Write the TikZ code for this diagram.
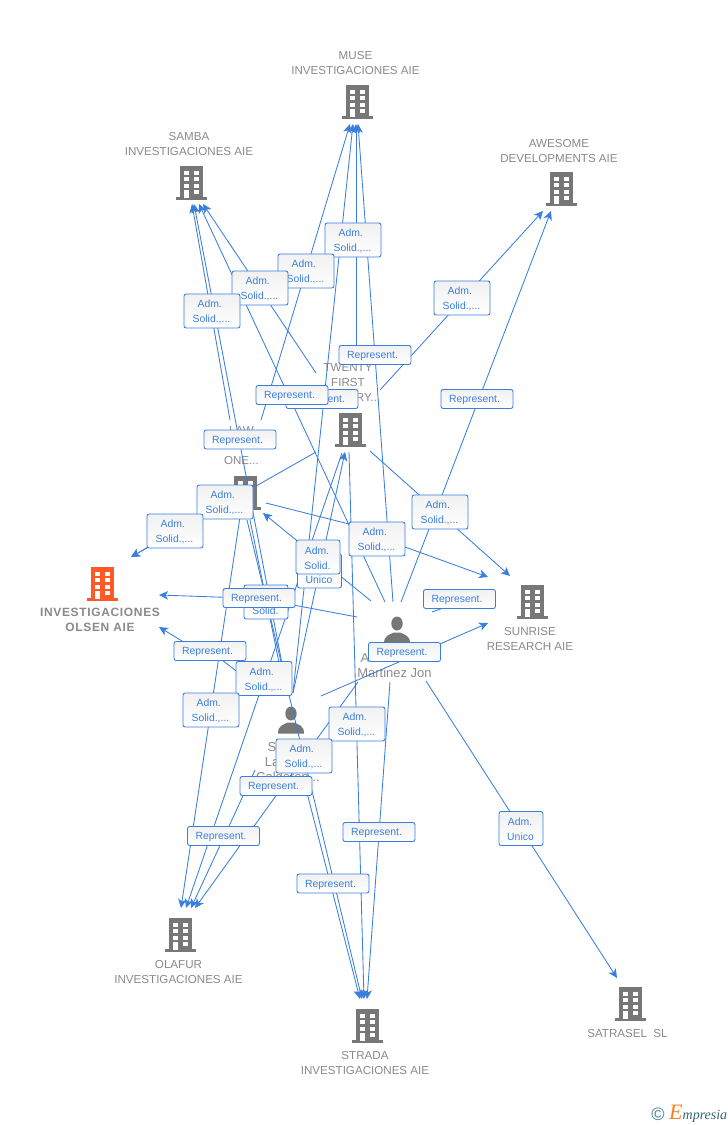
\documentclass[tikz,border=0pt]{standalone}
\usepackage{fontspec}
\setmainfont{Liberation Sans}
\newfontfamily\serifital{Liberation Serif}[ItalicFont=* Italic]
\usetikzlibrary{arrows.meta}
\definecolor{linkblue}{HTML}{3B7FDD}
\definecolor{boxtop}{HTML}{F1F1F1}
\definecolor{namegray}{HTML}{8A8A8A}
\definecolor{icongray}{HTML}{777777}
\definecolor{orangeicon}{HTML}{FF5A26}
\definecolor{brandteal}{HTML}{3F7F96}
\definecolor{brandorange}{HTML}{F58220}
\newcommand\dn[1]{\raisebox{-1pt}[\height][\depth]{#1}}
\newcommand\repT{\dn{Represent.}\kern5pt}
\newcommand\admS{\dn{Adm.}\kern4.5pt\\\dn{Solid.,...}\kern1pt}
\newcommand\admD{\dn{Adm.}\kern2pt\\\dn{Solid.}\kern1pt}
\newcommand\admU{\dn{Adm.}\kern2pt\\\dn{Unico}\kern1pt}
\tikzset{
  x=1pt,y=-1pt,
  linkline/.style={draw=linkblue,line width=0.85pt,line join=round},
  arrowlink/.style={linkline,-{Stealth[length=9pt,width=8.5pt,inset=2.5pt]}},
  tagbox/.style={draw=linkblue,line width=0.9pt,rounded corners=2.2pt,top color=boxtop,bottom color=white,
    text=linkblue,font=\fontsize{10.4}{15}\selectfont,align=center,inner sep=0pt},
  rolebox/.style={tagbox,minimum width=56pt,minimum height=34pt},
  repbox/.style={tagbox,minimum width=72pt,minimum height=19pt},
  unibox/.style={tagbox,minimum width=44pt,minimum height=34pt},
  entname/.style={text=namegray,font=\fontsize{11.6}{15}\selectfont,align=center,inner sep=0pt},
  persname/.style={text=namegray,font=\fontsize{13}{15}\selectfont,align=center,inner sep=0pt},
  pics/bldg/.style={code={
    \fill[#1] (-11.5,-16.5) rectangle (11.5,15.5);
    \fill[#1] (-15.5,15) rectangle (15.5,17.5);
    \foreach \yy in {-11.5,-4.7,2} {
      \fill[white] (-7.5,\yy) rectangle (-2.5,\yy+4);
      \fill[white] (2.5,\yy) rectangle (7.5,\yy+4);
    }
    \fill[white] (-7.5,8) rectangle (-2.5,15.5);
    \fill[white] (2.5,8) rectangle (7.5,12);
  }},
  pics/person/.style={code={
    \fill[icongray] (0,-6.5) ellipse (5.7 and 7);
    \fill[icongray] (-13,13.5) .. controls (-13,5) and (-7,4.5) .. (-3,2.5) -- (3,2.5) .. controls (7,4.5) and (13,5) .. (13,13.5) -- cycle;
  }}
}
\begin{document}
\begin{tikzpicture}
\useasboundingbox (0,0) rectangle (728,1125);
\fill[white] (0,0) rectangle (728,1125);

% company and person names
\node[entname] (nmuse) at (355.5,63) {MUSE\\INVESTIGACIONES AIE};
\node[entname] (nsamba) at (189,144) {SAMBA\\INVESTIGACIONES AIE};
\node[entname] (nawesome) at (559,151) {AWESOME\\DEVELOPMENTS AIE};
\node[text=namegray,align=center,inner sep=0pt,font=\fontsize{12}{15}\bfseries\selectfont\addfontfeature{LetterSpace=5.5}] (nolsen) at (100,619.5) {INVESTIGACIONES\\OLSEN AIE};
\node[entname] (nsunrise) at (530,638.5) {SUNRISE\\RESEARCH AIE};
\node[entname] (ntwenty) at (348,383) {TWENTY\\FIRST\\CENTURY...};
\node[entname] (nlaw) at (241.5,446) {LAW\\TWENTY\\ONE...};
\node[entname] (nolafur) at (178.5,972) {OLAFUR\\INVESTIGACIONES AIE};
\node[entname] (nstrada) at (365,1062.5) {STRADA\\INVESTIGACIONES AIE};
\node[entname] (nsatrasel) at (627.5,1033) {SATRASEL\ \ SL};
\node[persname] (nmart) at (394.5,673) {Martinez Jon};
\node[persname] (nmarta) at (365,658) {A};
\node[persname] (nsanza) at (272,747) {S};
\node[persname] (nsanzb) at (272,762) {La};
\node[persname] (nsanzc) at (288,777) {Calderon...};

% icons
\pic at (357.5,101) {bldg=icongray};
\pic at (191,182) {bldg=icongray};
\pic at (561,188) {bldg=icongray};
\pic at (102,583) {bldg=orangeicon};
\pic at (532,601) {bldg=icongray};
\pic at (350,429) {bldg=icongray};
\pic at (245,492) {bldg=icongray};
\pic at (180,934) {bldg=icongray};
\pic at (367,1025) {bldg=icongray};
\pic at (630,1003) {bldg=icongray};
\pic at (397,630) {person};
\pic at (291,720) {person};

% connector ends
\coordinate (muA) at (350,124);  \coordinate (muB) at (353,124);
\coordinate (muC) at (356,124);  \coordinate (muD) at (358,124);
\coordinate (saA) at (192,204);  \coordinate (saB) at (194,204);
\coordinate (saC) at (199,204);  \coordinate (saD) at (203,204);
\coordinate (awA) at (543,211);  \coordinate (awB) at (551,211);
\coordinate (srA) at (510,576);  \coordinate (srB) at (488,577);
\coordinate (srC) at (488,623);
\coordinate (olA) at (131,557);  \coordinate (olB) at (159,595);
\coordinate (olC) at (159,627);
\coordinate (lawIn) at (263,513);
\coordinate (twIn) at (345,452);
\coordinate (ofA) at (181,908);  \coordinate (ofB) at (186,908);
\coordinate (ofC) at (191,908);  \coordinate (ofD) at (195,908);
\coordinate (stA) at (360,999);  \coordinate (stB) at (362,999);
\coordinate (stC) at (364,999);  \coordinate (stD) at (367,999);
\coordinate (satIn) at (617,978);

\coordinate (lawMu) at (261,420);  \coordinate (lawSa) at (230,420);
\coordinate (lawSr) at (266,503);  \coordinate (lawOl) at (219,506);
\coordinate (lawOf) at (240,517);  \coordinate (lawSt) at (247,520);
\coordinate (lawSz) at (250,520);
\coordinate (twMu) at (356,362);   \coordinate (twSa) at (316,373);
\coordinate (twAw) at (380,390);   \coordinate (twSr) at (370,451);
\coordinate (twOl) at (316,452);   \coordinate (twOf) at (342,453);
\coordinate (twSt) at (349,452);
\coordinate (maMu) at (393,602);   \coordinate (maSa) at (385,602);
\coordinate (maAw) at (401,602);   \coordinate (maLa) at (371,601);
\coordinate (maOl) at (357,617);   \coordinate (maOf) at (358,682);
\coordinate (maSt) at (390,682);   \coordinate (maSat) at (426,681);
\coordinate (maSr) at (432,612);   \coordinate (maSrE) at (452,605);
\coordinate (szMu) at (293,693);   \coordinate (szTw) at (293,693);
\coordinate (szSa) at (288,695);   \coordinate (szLa) at (285,692);
\coordinate (szSr) at (321,696);   \coordinate (szOl) at (262,691);
\coordinate (szOf) at (255,770);   \coordinate (szSt) at (305,785);
\coordinate (kinkLS) at (349,524); \coordinate (kinkLSb) at (405,547);
\coordinate (kinkSO) at (222,660); \coordinate (kinkSOb) at (182,641);
\coordinate (kinkMO) at (259,598.5);

% connectors
\draw[arrowlink] (lawMu) -- (muA);
\draw[arrowlink] (szMu) -- (muB);
\draw[arrowlink] (twMu) -- (muC);
\draw[arrowlink] (maMu) -- (muD);
\draw[arrowlink] (lawSa) -- (saA);
\draw[arrowlink] (szSa) -- (saB);
\draw[arrowlink] (maSa) -- (saC);
\draw[arrowlink] (twSa) -- (saD);
\draw[arrowlink] (twAw) -- (awA);
\draw[arrowlink] (maAw) -- (awB);
\draw[arrowlink] (twSr) -- (srA);
\draw[arrowlink] (lawSr) -- (kinkLS) -- (kinkLSb) -- (srB);
\draw[arrowlink] (szSr) -- (srC);
\draw[linkline] (maSr) -- (maSrE);
\draw[arrowlink] (twOl) -- (olA);
\draw[arrowlink] (lawOl) -- (olA);
\draw[arrowlink] (maOl) -- (kinkMO) -- (olB);
\draw[arrowlink] (szOl) -- (kinkSO) -- (kinkSOb) -- (olC);
\draw[arrowlink] (maLa) -- (lawIn);
\draw[arrowlink] (szTw) -- (twIn);
\draw[linkline] (lawSz) -- (szLa);
\draw[arrowlink] (lawOf) -- (ofA);
\draw[arrowlink] (twOf) -- (ofB);
\draw[arrowlink] (szOf) -- (ofC);
\draw[arrowlink] (maOf) -- (ofD);
\draw[arrowlink] (szSt) -- (stA);
\draw[arrowlink] (lawSt) -- (stB);
\draw[arrowlink] (twSt) -- (stC);
\draw[arrowlink] (maSt) -- (stD);
\draw[arrowlink] (maSat) -- (satIn);

% connector labels
\node[rolebox] (l01) at (353,240) {\admS};
\node[rolebox] (l02) at (306,271) {\admS};
\node[rolebox] (l03) at (260,288) {\admS};
\node[rolebox] (l04) at (212,311) {\admS};
\node[rolebox] (l05) at (462,298) {\admS};
\node[repbox] (r01) at (375,355) {\repT};
\node[repbox] (r02) at (322,399) {\repT};
\node[repbox] (r03) at (292,395) {\repT};
\node[repbox] (r04) at (477,399) {\repT};
\node[repbox] (r05) at (240,439.5) {\repT};
\node[rolebox] (l06) at (225,502) {\admS};
\node[rolebox] (l07) at (175,531) {\admS};
\node[rolebox] (l08) at (440,512) {\admS};
\node[rolebox] (l09) at (377,539) {\admS};
\node[unibox] (l10) at (319.5,571) {\admU};
\node[unibox] (l11) at (318,557) {\admD};
\node[unibox] (l12) at (266,602) {\admD};
\node[repbox] (r06) at (259,598) {\repT};
\node[repbox] (r07) at (459.5,599) {\repT};
\node[repbox] (r08) at (210,651) {\repT};
\node[repbox] (r09) at (404.5,652) {\repT};
\node[rolebox] (l13) at (264,678.5) {\admS};
\node[rolebox] (l14) at (211,710) {\admS};
\node[rolebox] (l15) at (357,724) {\admS};
\node[rolebox] (l16) at (304,756) {\admS};
\node[repbox] (r10) at (276,786) {\repT};
\node[repbox] (r11) at (223.5,836) {\repT};
\node[repbox] (r12) at (379,832) {\repT};
\node[repbox] (r13) at (333,883.5) {\repT};
\node[unibox] (l17) at (521,828.5) {\admU};

% brand
\node[text=brandteal,inner sep=0pt,font=\fontsize{18}{18}\selectfont] (copy) at (658,1114) {©};
\node[inner sep=0pt,anchor=west] (brand) at (669,1114) {\serifital\itshape\fontsize{22}{22}\selectfont\textcolor{brandorange}{E}\fontsize{14}{14}\selectfont\textcolor{brandteal!80!black}{mpresia}};
\end{tikzpicture}
\end{document}
